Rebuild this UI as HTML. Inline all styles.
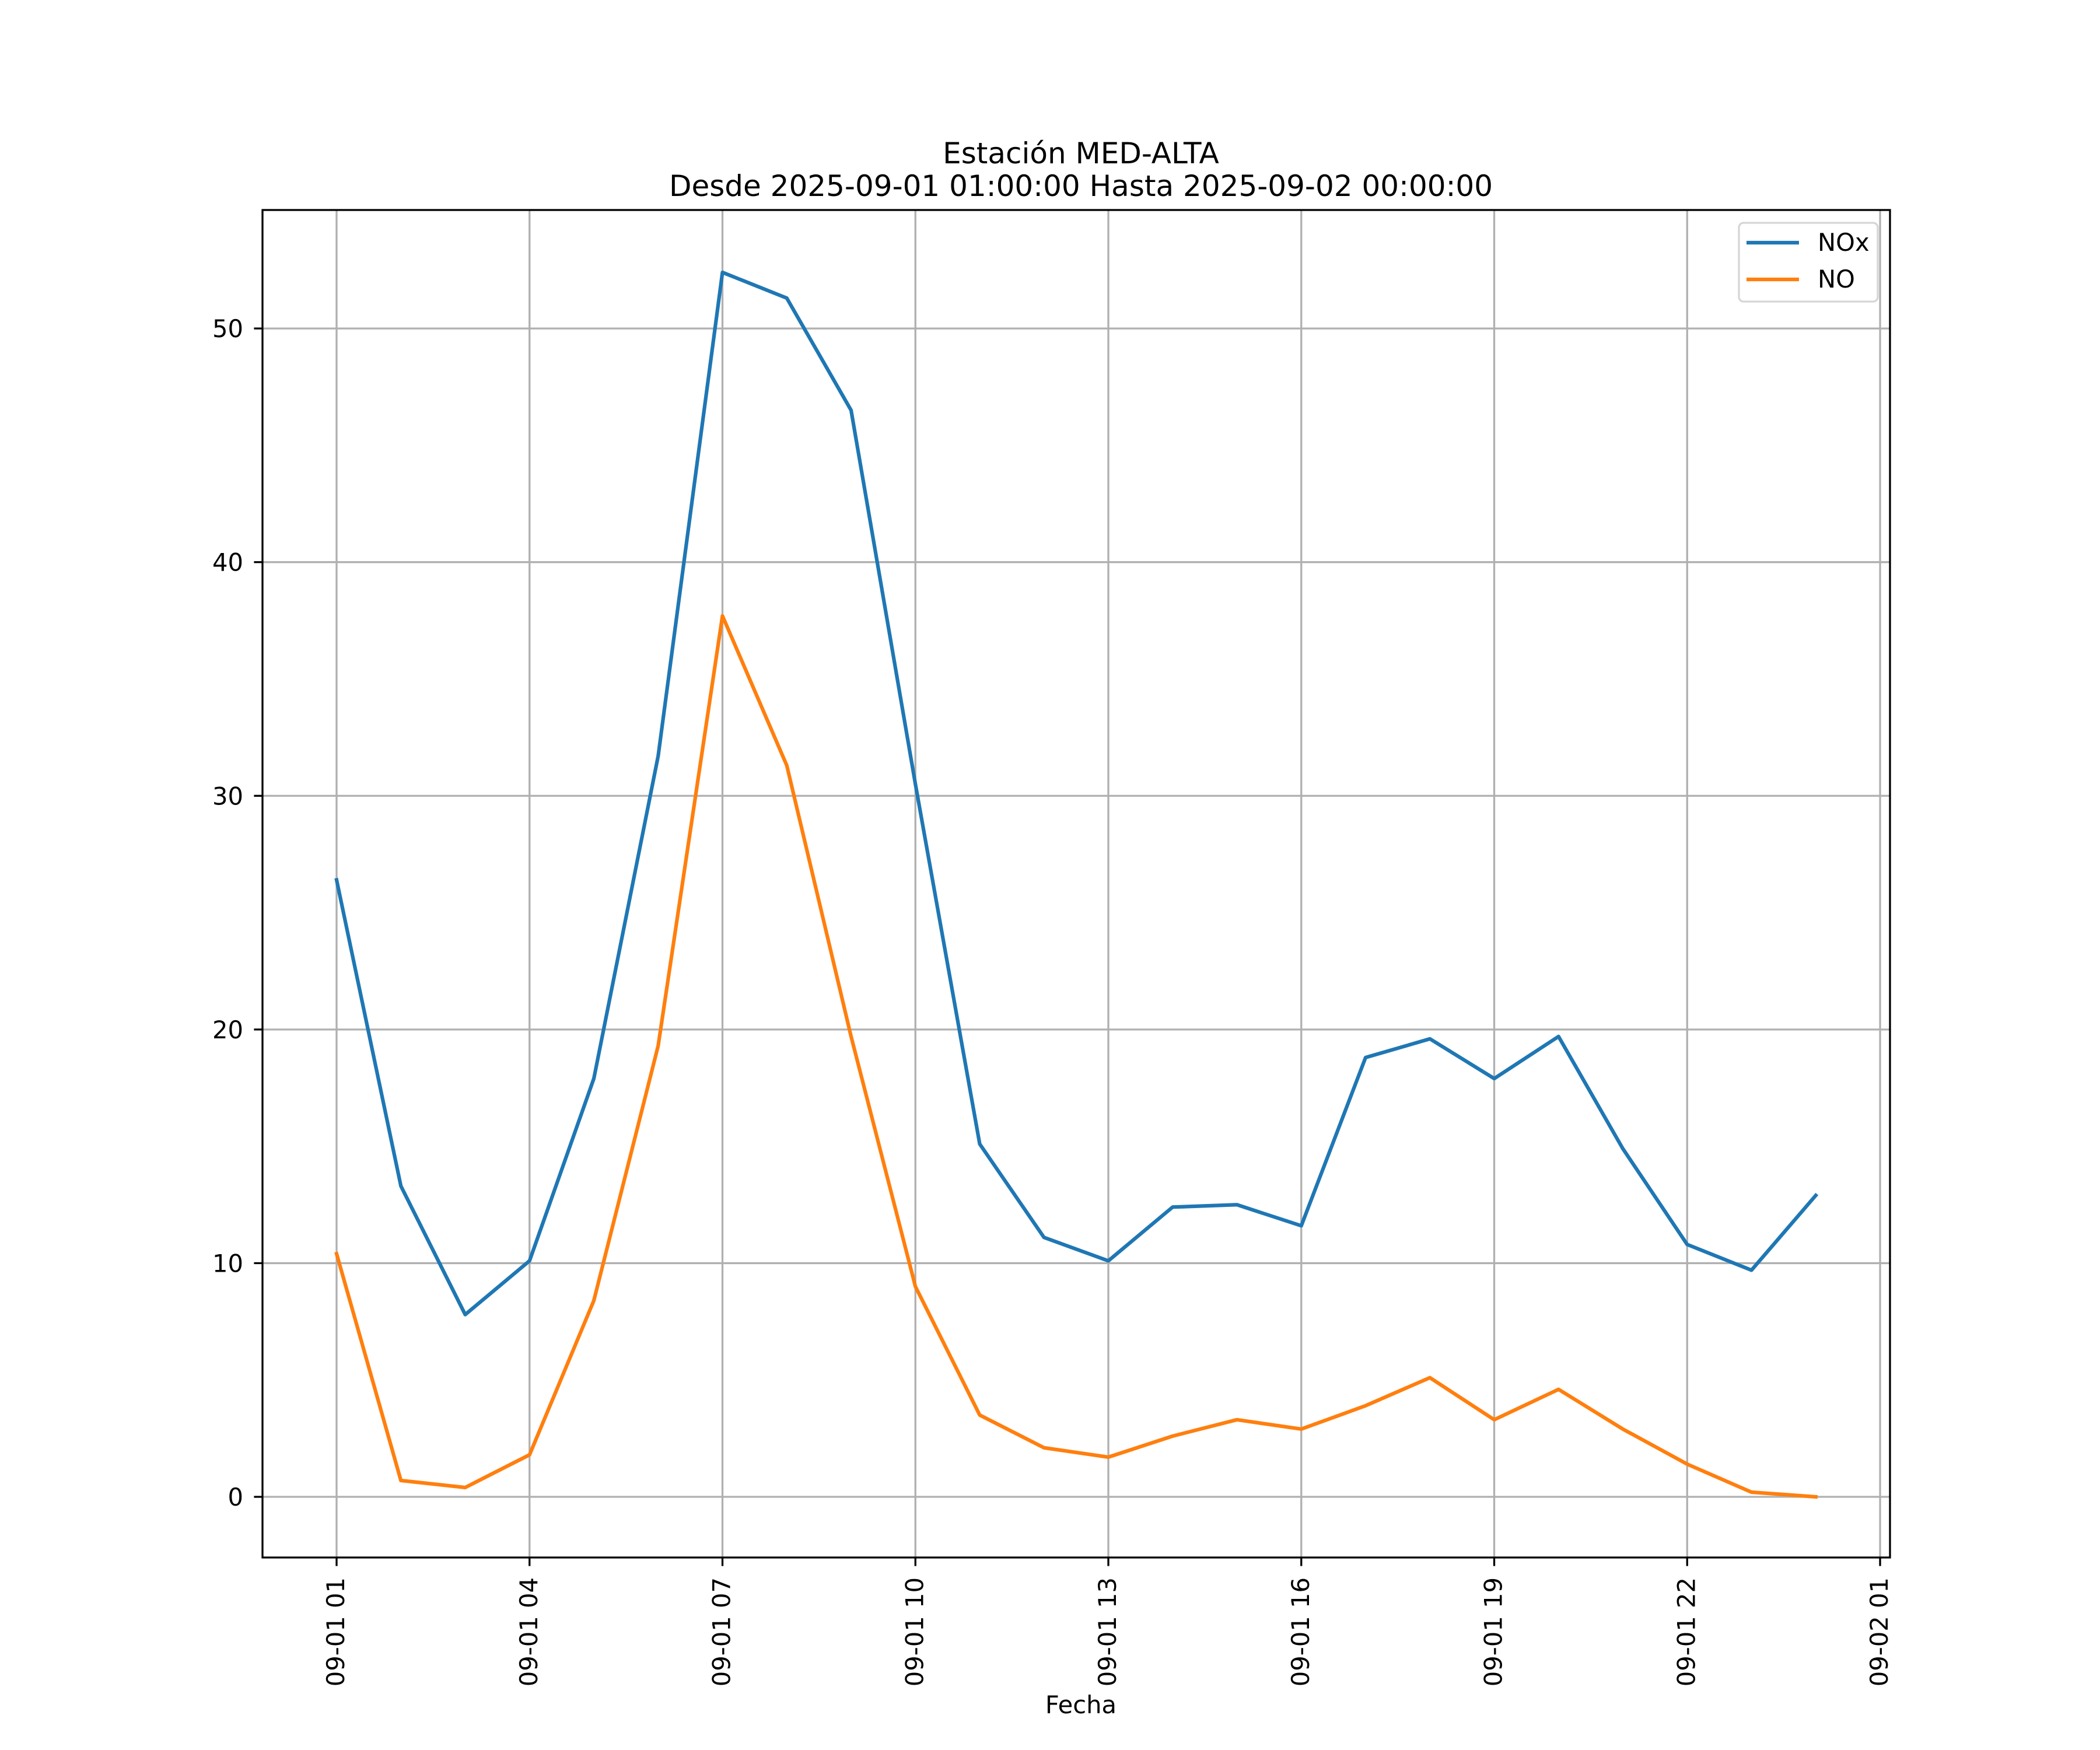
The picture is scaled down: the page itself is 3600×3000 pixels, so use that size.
<!DOCTYPE html>
<html><head><meta charset="utf-8"><style>html,body{margin:0;padding:0;background:#fff}svg{display:block}</style></head>
<body>
<svg id="chart" width="3600" height="3000" viewBox="0 0 3600 3000" xmlns="http://www.w3.org/2000/svg" font-family="'DejaVu Sans', 'Liberation Sans', sans-serif">
<rect width="3600" height="3000" fill="#fff"/>
<g id="grid"></g>
<g id="series"></g>
<rect x="450" y="360" width="2790" height="2310" fill="none" stroke="#000" stroke-width="3.3"/>
<g id="ticks"></g>
<text x="1853" y="280" font-size="50" text-anchor="middle">Estación MED-ALTA</text>
<text x="1853" y="336" font-size="50" text-anchor="middle">Desde 2025-09-01 01:00:00 Hasta 2025-09-02 00:00:00</text>
<text x="1853" y="2937" font-size="41.67" text-anchor="middle">Fecha</text>
<g>
<rect x="2981" y="382" width="238" height="135" rx="8" fill="#fff" fill-opacity="0.8" stroke="#d6d6d6" stroke-width="3.3"/>
<line x1="2994" y1="416" x2="3084" y2="416" stroke="#1f77b4" stroke-width="6.25"/>
<text x="3116" y="430" font-size="41.67">NOx</text>
<line x1="2994" y1="479" x2="3084" y2="479" stroke="#ff7f0e" stroke-width="6.25"/>
<text x="3116" y="493" font-size="41.67">NO</text>
</g>
</svg>
<script>
const hours = [1,2,3,4,5,6,7,8,9,10,11,12,13,14,15,16,17,18,19,20,21,22,23,24];
const noxValues = [26.4,13.3,7.8,10.1,17.9,31.7,52.4,51.3,46.5,30.5,15.1,11.1,10.1,12.4,12.5,11.6,18.8,19.6,17.9,19.7,14.9,10.8,9.7,12.9];
const noValues = [10.4,0.7,0.4,1.8,8.4,19.3,37.7,31.3,19.7,9.0,3.5,2.1,1.7,2.6,3.3,2.9,3.9,5.1,3.3,4.6,2.9,1.4,0.2,0.0];
const yTicks = [0,10,20,30,40,50];
const xTickHours = [1,4,7,10,13,16,19,22,25];
const xTickLabels = ["09-01 01","09-01 04","09-01 07","09-01 10","09-01 13","09-01 16","09-01 19","09-01 22","09-02 01"];

const NS = "http://www.w3.org/2000/svg";
const L=450,R=3240,T=360,B=2670;
const xMin=1-1.152, xMax=25.154, yMin=-2.596, yMax=55.07;
const xs = h => L + (h-xMin)/(xMax-xMin)*(R-L);
const ys = v => B - (v-yMin)/(yMax-yMin)*(B-T);
function mk(tag, attrs, parent){const e=document.createElementNS(NS,tag);for(const k in attrs)e.setAttribute(k,attrs[k]);parent.appendChild(e);return e;}
const grid=document.getElementById('grid'), ticks=document.getElementById('ticks'), series=document.getElementById('series');
yTicks.forEach(v=>{
  const y=ys(v);
  const g=mk('line',{x1:L,x2:R,y1:y,y2:y,stroke:'#b0b0b0','stroke-width':3.3},grid);
  
  
  mk('line',{x1:L-14.6,x2:L,y1:y,y2:y,stroke:'#000','stroke-width':3.3},ticks);
  const t=mk('text',{x:L-33,y:y+15,'font-size':41.67,'text-anchor':'end'},ticks);
  t.textContent=v;
  
  
});
xTickHours.forEach((h,i)=>{
  const x=xs(h);
  const g=mk('line',{x1:x,x2:x,y1:T,y2:B,stroke:'#b0b0b0','stroke-width':3.3},grid);
  
  
  mk('line',{x1:x,x2:x,y1:B,y2:B+14.6,stroke:'#000','stroke-width':3.3},ticks);
  const t=mk('text',{x:0,y:0,'font-size':41.67,'text-anchor':'end',transform:`translate(${x+13},${B+34}) rotate(-90)`},ticks);
  t.textContent=xTickLabels[i];
  
  
});
function line(vals,color,name){
  const p=mk('polyline',{points:vals.map((v,i)=>xs(hours[i])+','+ys(v)).join(' '),fill:'none',stroke:color,'stroke-width':6.25,'stroke-linejoin':'round','stroke-linecap':'square'},series);
  
  
}
line(noxValues,'#1f77b4','nox-line');
line(noValues,'#ff7f0e','no-line');
</script>
</body></html>
